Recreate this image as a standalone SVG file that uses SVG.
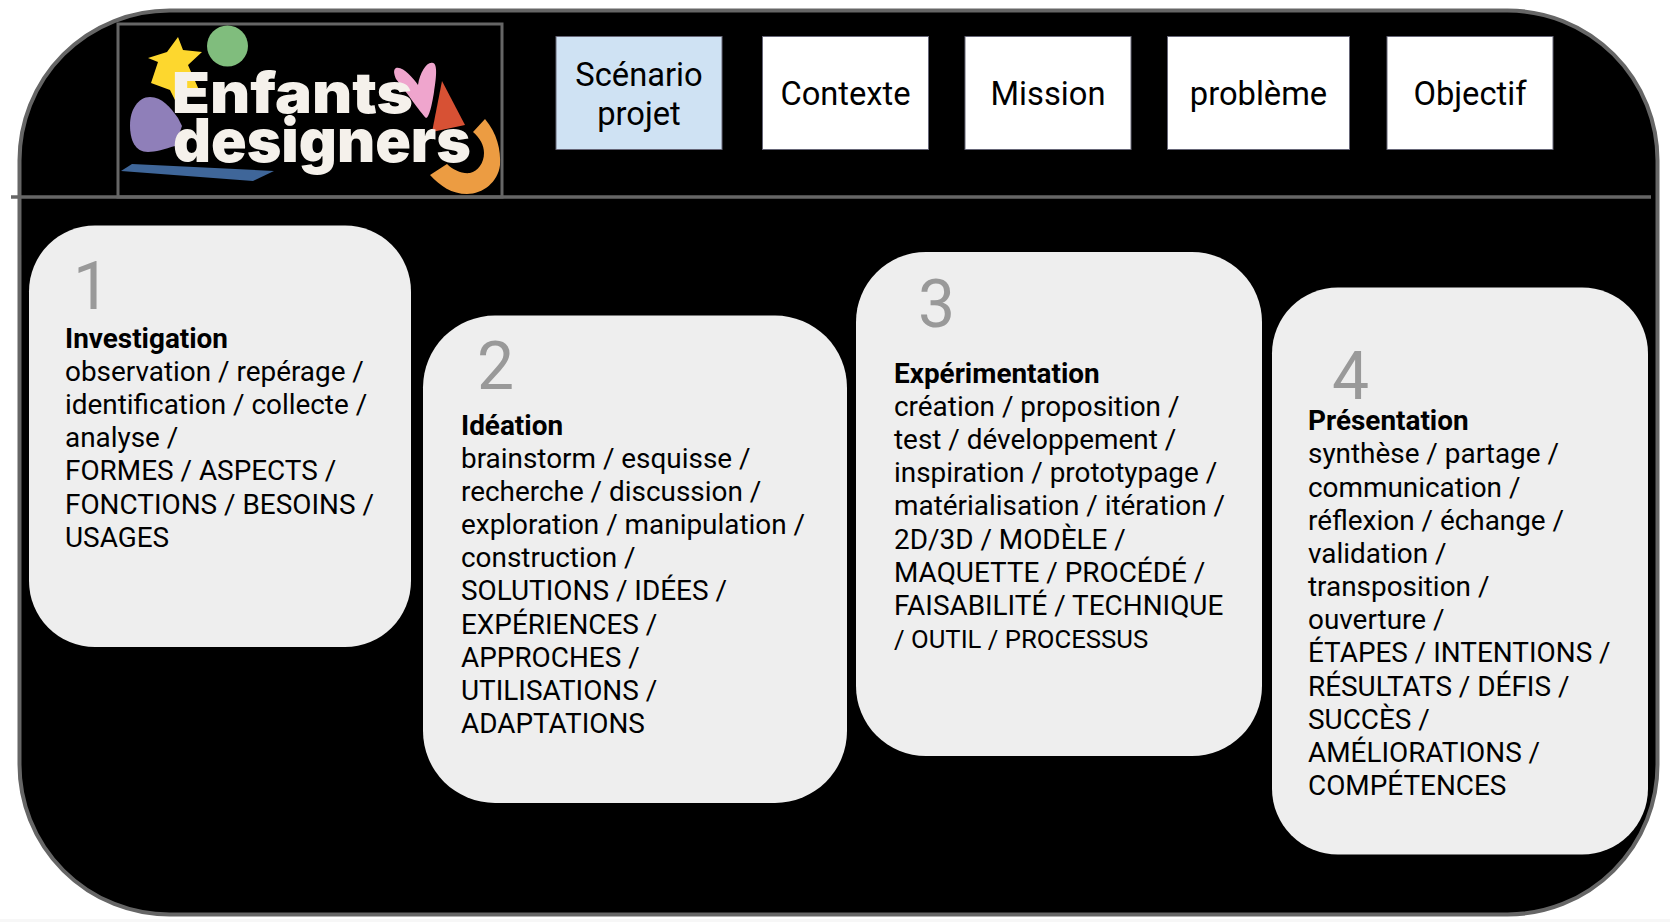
<svg xmlns="http://www.w3.org/2000/svg" width="1670" height="922" viewBox="0 0 1670 922">
<style>
text{font-family:Roboto,"Liberation Sans",sans-serif;fill:#000}
.b{font-size:27.9px}
.h{font-size:27.9px;font-weight:700}
.s{font-size:25.700px}
.n{font-size:66px;fill:#999}
.t{font-size:32.700px;text-anchor:middle}
.card{fill:#eee}
.top{fill:#fff}
.box{stroke:#667;stroke-width:1}
.logo{font-weight:900;fill:#f5f1eb;font-family:Inter,Roboto,sans-serif}
</style>
<rect width="1670" height="922" fill="#fff"/>
<rect y="919" width="1670" height="3" fill="#f7f7f7"/>
<rect id="frame" x="19.500" y="10.500" width="1638" height="904" rx="150" ry="150" fill="#000" stroke="#666" stroke-width="4"/>
<g id="connectors"><line x1="11" y1="197" x2="1651" y2="197" stroke="#666" stroke-width="3.500"/></g>
<g id="logo">
<rect x="118" y="24" width="384" height="173" fill="none" stroke="#666" stroke-width="3"/>
<circle cx="227.500" cy="46" r="20.500" fill="#80bd7d"/>
<polygon points="178,37 183,50 202,52 188,65 199,90 175,100 170,90 151,83 158,62 148,58 167,52" fill="#fdd72e"/>
<path d="M150,97C162,97 170,107 178,118L182,126L175,146C165,149 155,152 148,152C135,152 130,140 130,125C130,110 138,97 150,97Z" fill="#8f7fb9"/>
<polygon points="132,164 274,171 253,181 121,171" fill="#3f6699"/>
<path d="M396,68C403,66 413,78 418,85C420,72 427,61 433,63C438,64 436,80 434,92C432,105 429,118 426,118C420,112 405,90 396,79C394,74 393,70 396,68Z" fill="#efa5cd"/>
<polygon points="442,81 465,125 432,132" fill="#d75134"/>
<path d="M485,119C497,133 501,150 500,165C498,182 483,194 467,194C452,194 440,186 430,175L447,164C453,170 462,174 470,173C478,171 484,163 484,153C484,145 480,138 473,132Z" fill="#ec9c42"/>
<text class="logo" font-size="56" x="172" y="113" textLength="241" lengthAdjust="spacingAndGlyphs">Enfants</text>
<text class="logo" font-size="60" x="173" y="162" textLength="298" lengthAdjust="spacingAndGlyphs">designers</text>
</g>
<g id="n-scenario"><rect class="box" x="556" y="36.500" width="166" height="113" fill="#cfe2f3"/><text class="t" x="639" y="86">Scénario</text><text class="t" x="639" y="124.500">projet</text></g>
<g id="n-contexte"><rect class="top box" x="762.500" y="36.500" width="166" height="113"/><text class="t" x="845.500" y="105">Contexte</text></g>
<g id="n-mission"><rect class="top box" x="965" y="36.500" width="166" height="113"/><text class="t" x="1048" y="105">Mission</text></g>
<g id="n-probleme"><rect class="top box" x="1167.500" y="36.500" width="182" height="113"/><text class="t" x="1258.500" y="105">problème</text></g>
<g id="n-objectif"><rect class="top box" x="1387" y="36.500" width="166" height="113"/><text class="t" x="1470" y="105">Objectif</text></g>
<g id="n-1"><rect class="card" x="29" y="225.500" width="382" height="421.500" rx="66"/>
<text class="n" x="73" y="309">1</text>
<text class="h" x="65" y="347.500">Investigation</text>
<text class="b" x="65" y="380.500">observation / repérage /</text>
<text class="b" x="65" y="413.500">identification / collecte /</text>
<text class="b" x="65" y="446.500">analyse /</text>
<text class="b" x="65" y="479.500">FORMES / ASPECTS /</text>
<text class="b" x="65" y="513.500">FONCTIONS / BESOINS /</text>
<text class="b" x="65" y="546.500">USAGES</text></g>
<g id="n-2"><rect class="card" x="423" y="315.500" width="424" height="487.500" rx="72"/>
<text class="n" x="477" y="389">2</text>
<text class="h" x="461" y="434.500">Idéation</text>
<text class="b" x="461" y="467.500">brainstorm / esquisse /</text>
<text class="b" x="461" y="500.500">recherche / discussion /</text>
<text class="b" x="461" y="533.500">exploration / manipulation /</text>
<text class="b" x="461" y="566.500">construction /</text>
<text class="b" x="461" y="599.500">SOLUTIONS / IDÉES /</text>
<text class="b" x="461" y="633.500">EXPÉRIENCES /</text>
<text class="b" x="461" y="666.500">APPROCHES /</text>
<text class="b" x="461" y="699.500">UTILISATIONS /</text>
<text class="b" x="461" y="732.500">ADAPTATIONS</text></g>
<g id="n-3"><rect class="card" x="856" y="252" width="406" height="504" rx="70"/>
<text class="n" x="918" y="327">3</text>
<text class="h" x="894" y="382.500">Expérimentation</text>
<text class="b" x="894" y="415.500">création / proposition /</text>
<text class="b" x="894" y="448.500">test / développement /</text>
<text class="b" x="894" y="481.500">inspiration / prototypage /</text>
<text class="b" x="894" y="515">matérialisation / itération /</text>
<text class="b" x="894" y="548.500">2D/3D / MODÈLE /</text>
<text class="b" x="894" y="581.500">MAQUETTE / PROCÉDÉ /</text>
<text class="b" x="894" y="614.500">FAISABILITÉ / TECHNIQUE</text>
<text class="b s" x="894" y="647.500">/ OUTIL / PROCESSUS</text></g>
<g id="n-4"><rect class="card" x="1272" y="287.500" width="376" height="567" rx="66"/>
<text class="n" x="1332" y="399">4</text>
<text class="h" x="1308" y="429.500">Présentation</text>
<text class="b" x="1308" y="462.500">synthèse / partage /</text>
<text class="b" x="1308" y="496.500">communication /</text>
<text class="b" x="1308" y="529.500">réflexion / échange /</text>
<text class="b" x="1308" y="562.500">validation /</text>
<text class="b" x="1308" y="595.500">transposition /</text>
<text class="b" x="1308" y="628.500">ouverture /</text>
<text class="b" x="1308" y="661.500">ÉTAPES / INTENTIONS /</text>
<text class="b" x="1308" y="695.500">RÉSULTATS / DÉFIS /</text>
<text class="b" x="1308" y="728.500">SUCCÈS /</text>
<text class="b" x="1308" y="761.500">AMÉLIORATIONS /</text>
<text class="b" x="1308" y="794.500">COMPÉTENCES</text></g>
</svg>
